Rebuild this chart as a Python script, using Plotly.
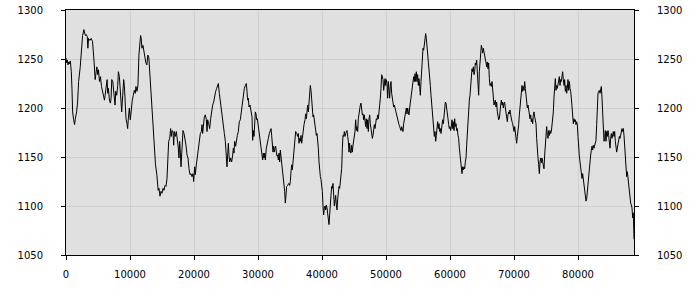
import plotly.graph_objects as go

seg1 = [(0,1251),(104,1246),(207,1249),(311,1244),(414,1247),(518,1245),(673,1248),(829,1237),(932,1220),(1036,1196),(1191,1188),(1347,1183),(1450,1189),(1658,1196),(1813,1206),(1968,1227),(2227,1242),(2383,1261),(2590,1274),(2797,1280),(3004,1274),(3160,1275),(3315,1273),(3419,1261),(3522,1271),(3730,1269),(3937,1271),(4144,1268),(4299,1257),(4403,1246),(4558,1229),(4662,1237),(4817,1242),(4973,1234),(5076,1239),(5232,1227),(5387,1232),(5543,1222),(5698,1218),(5853,1213),(6009,1208),(6112,1213),(6268,1223),(6423,1229),(6527,1215),(6630,1220),(6786,1208),(6941,1205),(7045,1210),(7148,1229),(7304,1227),(7407,1220),(7563,1208),(7666,1203),(7770,1217),(7925,1213),(8081,1223),(8184,1237),(8340,1232),(8443,1217),(8599,1203),(8702,1196),(8858,1213),(9013,1229),(9117,1223),(9220,1203),(9376,1189),(9531,1184),(9635,1179),(9738,1189),(9894,1200),(10049,1188),(10205,1203),(10360,1208),(10515,1213),(10671,1218),(10826,1215),(10930,1222),(11085,1217),(11241,1223),(11396,1254),(11552,1264),(11655,1274),(11759,1271),(11862,1261),(12018,1264),(12173,1257),(12328,1251),(12484,1246),(12639,1244),(12795,1254),(12950,1251),(13054,1240),(13209,1230),(13364,1206),(13520,1196),(13675,1176),(13831,1155),(13986,1142),(14194,1132),(14401,1116)]

seg2 = [(14531,1118),(14687,1110),(14843,1115),(15000,1113),(15156,1118),(15312,1116),(15468,1121),(15624,1120),(15781,1128),(15885,1152),(16041,1166),(16197,1169),(16353,1179),(16458,1171),(16562,1177),(16718,1176),(16822,1162),(16926,1176),(17082,1171),(17239,1176),(17395,1169),(17551,1159),(17655,1149),(17760,1166),(17864,1155),(17968,1140),(18072,1152),(18176,1162),(18280,1177),(18437,1174),(18593,1169),(18749,1162),(18906,1152),(19062,1149),(19218,1138),(19374,1132),(19531,1133),(19687,1130),(19843,1133),(19947,1125),(20103,1140),(20207,1132),(20364,1142),(20520,1151),(20676,1159),(20832,1167),(20989,1174),(21145,1176),(21249,1183),(21353,1174),(21458,1184),(21614,1191),(21770,1193),(21926,1188),(22031,1176),(22135,1188),(22291,1184),(22447,1179),(22603,1189),(22760,1198),(22916,1203),(23072,1206),(23228,1213),(23385,1217),(23541,1220),(23697,1222),(23801,1225),(23958,1215),(24114,1206),(24270,1198),(24426,1188),(24582,1177),(24739,1174),(24895,1166),(25051,1155),(25155,1140),(25260,1152),(25364,1164),(25468,1152),(25572,1145),(25728,1149),(25885,1145),(26041,1152),(26145,1159),(26249,1154),(26353,1166),(26510,1161),(26614,1169),(26770,1172),(26926,1176),(27082,1186),(27239,1188),(27395,1196),(27551,1203),(27707,1213),(27864,1220),(28020,1223),(28176,1225),(28280,1217),(28385,1208),(28489,1210),(28593,1201),(28749,1203),(28906,1196),(29062,1191),(29166,1167),(29270,1177)]

seg3 = [(29375,1171),(29479,1184),(29583,1196),(29687,1194),(29791,1188),(29895,1189),(30052,1181),(30208,1171),(30364,1166),(30521,1159),(30625,1152),(30729,1147),(30833,1154),(30937,1149),(31041,1154),(31146,1147),(31302,1159),(31458,1166),(31614,1169),(31770,1174),(31927,1177),(32031,1179),(32135,1172),(32239,1159),(32343,1155),(32447,1161),(32552,1155),(32656,1159),(32760,1161),(32864,1155),(32968,1151),(33072,1152),(33177,1147),(33281,1154),(33385,1145),(33489,1157),(33593,1151),(33697,1142),(33854,1138),(33958,1127),(34062,1121),(34166,1115),(34271,1103),(34375,1110),(34479,1120),(34635,1121),(34791,1123),(34947,1121),(35052,1125),(35156,1135),(35260,1142),(35364,1137),(35468,1145),(35624,1159),(35781,1172),(35885,1176),(36041,1174),(36197,1171),(36302,1174),(36406,1164),(36510,1169),(36614,1166),(36718,1172),(36822,1164),(36927,1169),(37031,1176),(37187,1183),(37343,1188),(37447,1194),(37552,1189),(37656,1194),(37760,1203),(37864,1196),(37968,1210),(38072,1220),(38177,1223),(38281,1218),(38385,1211),(38489,1196),(38593,1191),(38697,1193),(38802,1186),(38906,1183),(39010,1176),(39114,1172),(39218,1174),(39322,1169),(39427,1159),(39531,1145),(39635,1132),(39739,1130),(39843,1127),(39947,1121),(40052,1115),(40156,1100),(40260,1091),(40364,1098),(40468,1100),(40572,1096),(40677,1101),(40781,1098),(40885,1091),(40989,1086),(41093,1081),(41197,1091),(41302,1098),(41406,1111),(41510,1120),(41614,1118),(41718,1123),(41822,1111),(41927,1100),(42031,1105),(42135,1111),(42239,1101),(42343,1096),(42447,1107),(42552,1116),(42656,1120),(42760,1118),(42864,1125),(42968,1128),(43072,1138),(43177,1159),(43281,1172),(43385,1171),(43489,1176),(43593,1171),(43697,1174),(43802,1176),(43906,1177)]

seg4 = [(44010,1171),(44114,1166),(44219,1155),(44323,1164),(44427,1155),(44531,1154),(44635,1162),(44739,1155),(44844,1162),(44948,1166),(45052,1171),(45156,1176),(45260,1188),(45365,1177),(45469,1181),(45573,1176),(45677,1189),(45781,1196),(45885,1200),(45990,1203),(46094,1205),(46198,1200),(46302,1193),(46406,1194),(46510,1188),(46615,1193),(46719,1186),(46823,1181),(46927,1189),(47031,1179),(47135,1188),(47240,1176),(47344,1189),(47448,1193),(47552,1184),(47656,1179),(47760,1174),(47865,1169),(47969,1172),(48073,1177),(48177,1183),(48281,1179),(48385,1186),(48490,1189),(48594,1188),(48698,1193),(48802,1189),(48906,1200),(49010,1205),(49115,1210),(49219,1220),(49323,1234),(49427,1232),(49531,1229),(49635,1218),(49740,1227),(49844,1230),(49948,1223),(50052,1229),(50156,1225),(50260,1210),(50365,1227),(50469,1215),(50573,1210),(50677,1223),(50781,1227),(50885,1215),(50990,1208),(51094,1203),(51198,1201),(51302,1203),(51406,1200),(51510,1196),(51615,1193),(51719,1189),(51823,1186),(51927,1184),(52031,1183),(52135,1181),(52240,1179),(52344,1177),(52448,1181),(52552,1177),(52656,1176),(52760,1184),(52865,1189),(52969,1193),(53073,1196),(53177,1200),(53281,1194),(53385,1200),(53490,1196),(53594,1193),(53698,1200),(53802,1206),(53906,1211),(54010,1217),(54115,1220),(54219,1225),(54323,1232),(54427,1227),(54531,1235),(54635,1227),(54740,1237),(54844,1227),(54948,1234),(55052,1223),(55156,1230),(55260,1222),(55365,1213),(55469,1227),(55573,1239),(55677,1256),(55781,1261),(55885,1259),(55990,1264),(56094,1271),(56198,1276),(56302,1271),(56406,1264),(56510,1256),(56615,1247),(56719,1239),(56823,1232),(56927,1223),(57031,1213),(57135,1206),(57240,1196),(57344,1188),(57448,1179),(57552,1171),(57656,1176),(57760,1166),(57865,1172),(57969,1181),(58073,1186),(58177,1179),(58281,1184),(58385,1176),(58490,1179),(58594,1174)]

seg5 = [(58646,1176),(58750,1183),(58854,1188),(58958,1184),(59062,1193),(59167,1203),(59271,1206),(59375,1205),(59479,1201),(59583,1196),(59687,1189),(59792,1183),(59896,1179),(60000,1181),(60104,1177),(60208,1181),(60312,1188),(60417,1179),(60521,1186),(60625,1177),(60729,1189),(60833,1181),(60937,1184),(61042,1177),(61146,1179),(61250,1172),(61354,1169),(61458,1159),(61562,1151),(61667,1145),(61771,1137),(61875,1133),(61979,1140),(62083,1137),(62187,1140),(62292,1138),(62396,1145),(62500,1149),(62604,1162),(62708,1176),(62812,1189),(62917,1203),(63021,1208),(63125,1213),(63229,1227),(63333,1235),(63437,1240),(63542,1237),(63646,1242),(63750,1234),(63854,1237),(63958,1246),(64062,1244),(64167,1249),(64271,1232),(64375,1220),(64479,1213),(64583,1237),(64687,1251),(64792,1261),(64896,1264),(65000,1261),(65104,1256),(65208,1261),(65312,1256),(65417,1254),(65521,1249),(65625,1246),(65729,1242),(65833,1247),(65937,1240),(66042,1246),(66146,1230),(66250,1223),(66354,1225),(66458,1222),(66562,1227),(66667,1218),(66771,1210),(66875,1203),(66979,1206),(67083,1208),(67187,1201),(67292,1206),(67396,1196),(67500,1189),(67604,1188),(67708,1189),(67812,1200),(67917,1203),(68021,1208),(68125,1203),(68229,1206),(68333,1200),(68437,1205),(68542,1206),(68646,1200),(68750,1196),(68854,1189),(68958,1186),(69062,1193),(69167,1196),(69271,1194),(69375,1198),(69479,1193),(69583,1188),(69687,1186),(69792,1184),(69896,1179),(70000,1176),(70104,1181),(70208,1174),(70312,1169),(70417,1164),(70521,1171),(70625,1176),(70729,1183),(70833,1193),(70937,1203),(71042,1213),(71146,1220),(71250,1223),(71354,1217),(71458,1222),(71562,1218),(71667,1227),(71771,1220),(71875,1215),(71979,1206),(72083,1200),(72187,1203),(72292,1198),(72396,1196),(72500,1189),(72604,1193),(72708,1186),(72812,1189),(72917,1184),(73021,1193),(73125,1196),(73229,1191),(73333,1186)]

seg6 = [(73437,1184),(73542,1169),(73646,1151),(73750,1149),(73854,1142),(73958,1133),(74062,1145),(74167,1149),(74271,1144),(74375,1149),(74479,1145),(74583,1140),(74687,1138),(74792,1152),(74896,1162),(75000,1172),(75104,1181),(75208,1172),(75312,1169),(75417,1177),(75521,1172),(75625,1177),(75729,1174),(75833,1176),(75937,1183),(76042,1188),(76146,1196),(76250,1211),(76354,1222),(76458,1230),(76562,1218),(76667,1223),(76771,1220),(76875,1223),(76979,1229),(77083,1232),(77187,1223),(77292,1229),(77396,1227),(77500,1232),(77604,1237),(77708,1229),(77812,1223),(77917,1229),(78021,1217),(78125,1223),(78229,1215),(78333,1220),(78437,1229),(78542,1218),(78646,1227),(78750,1220),(78854,1217),(78958,1210),(79062,1200),(79167,1193),(79271,1184),(79375,1189),(79479,1186),(79583,1188),(79687,1183),(79792,1186),(79896,1183),(80000,1171),(80104,1157),(80208,1151),(80312,1145),(80417,1138),(80521,1135),(80625,1128),(80729,1133),(80833,1128),(80937,1121),(81042,1115),(81146,1108),(81250,1105),(81354,1107),(81458,1116),(81562,1121),(81667,1128),(81771,1135),(81875,1143),(81979,1152),(82083,1157),(82187,1161),(82292,1157),(82396,1162),(82500,1159),(82604,1161),(82708,1164),(82812,1167),(82917,1183),(83021,1203),(83125,1215),(83229,1217),(83333,1218),(83437,1215),(83542,1220),(83646,1222),(83750,1210),(83854,1196),(83958,1183),(84062,1166),(84167,1169),(84271,1177),(84375,1166),(84479,1176),(84583,1171),(84687,1177),(84792,1172),(84896,1166),(85000,1159),(85104,1169),(85208,1174),(85312,1169),(85417,1174),(85521,1176),(85625,1171),(85729,1176),(85833,1166),(85937,1161),(86042,1155),(86146,1159),(86250,1162),(86354,1166),(86458,1171),(86562,1169),(86667,1174),(86771,1177),(86875,1179),(86979,1176),(87083,1179),(87187,1172),(87292,1159),(87396,1149),(87500,1138),(87604,1130),(87708,1135),(87812,1128),(87917,1123),(88021,1111),(88125,1108),(88229,1103),(88333,1101),(88437,1098),(88542,1088),(88646,1093),(88750,1066)]

x_ticks = [0, 10000, 20000, 30000, 40000, 50000, 60000, 70000, 80000]
y_ticks = [1050, 1100, 1150, 1200, 1250, 1300]

points = seg1 + seg2 + seg3 + seg4 + seg5 + seg6
xs = [p[0] for p in points]
ys = [p[1] for p in points]

fig = go.Figure()
fig.add_trace(go.Scatter(x=xs, y=ys, mode='lines',
                         line=dict(color='black', width=1), hoverinfo='skip'))
fig.add_trace(go.Scatter(x=[xs[0]], y=[ys[0]], yaxis='y2', mode='markers',
                         marker=dict(opacity=0), hoverinfo='skip'))

axis_common = dict(showline=True, linecolor='black', linewidth=1, automargin=False,
                   ticks='outside', ticklen=4, tickcolor='black', zeroline=False,
                   tickfont=dict(family='DejaVu Sans', size=10, color='black'))

fig.update_layout(
    width=700, height=300,
    margin=dict(l=66, r=66, t=10, b=45, pad=0),
    plot_bgcolor='#e0e0e0', paper_bgcolor='white',
    showlegend=False,
    xaxis=dict(range=[0, 88750], tickvals=x_ticks, ticktext=[str(v) for v in x_ticks],
               showgrid=True, gridcolor='#cfcfcf', gridwidth=1, mirror=True,
               ticklabelstandoff=6, **axis_common),
    yaxis=dict(range=[1050, 1300], tickvals=y_ticks, ticktext=[str(v) for v in y_ticks],
               showgrid=True, gridcolor='#cfcfcf', gridwidth=1, mirror=True,
               ticklabelstandoff=16, **axis_common),
    yaxis2=dict(range=[1050, 1300], tickvals=y_ticks, ticktext=[str(v) for v in y_ticks],
                overlaying='y', side='right', showgrid=False,
                ticklabelstandoff=16, **axis_common),
)

fig.write_html("out.html")
